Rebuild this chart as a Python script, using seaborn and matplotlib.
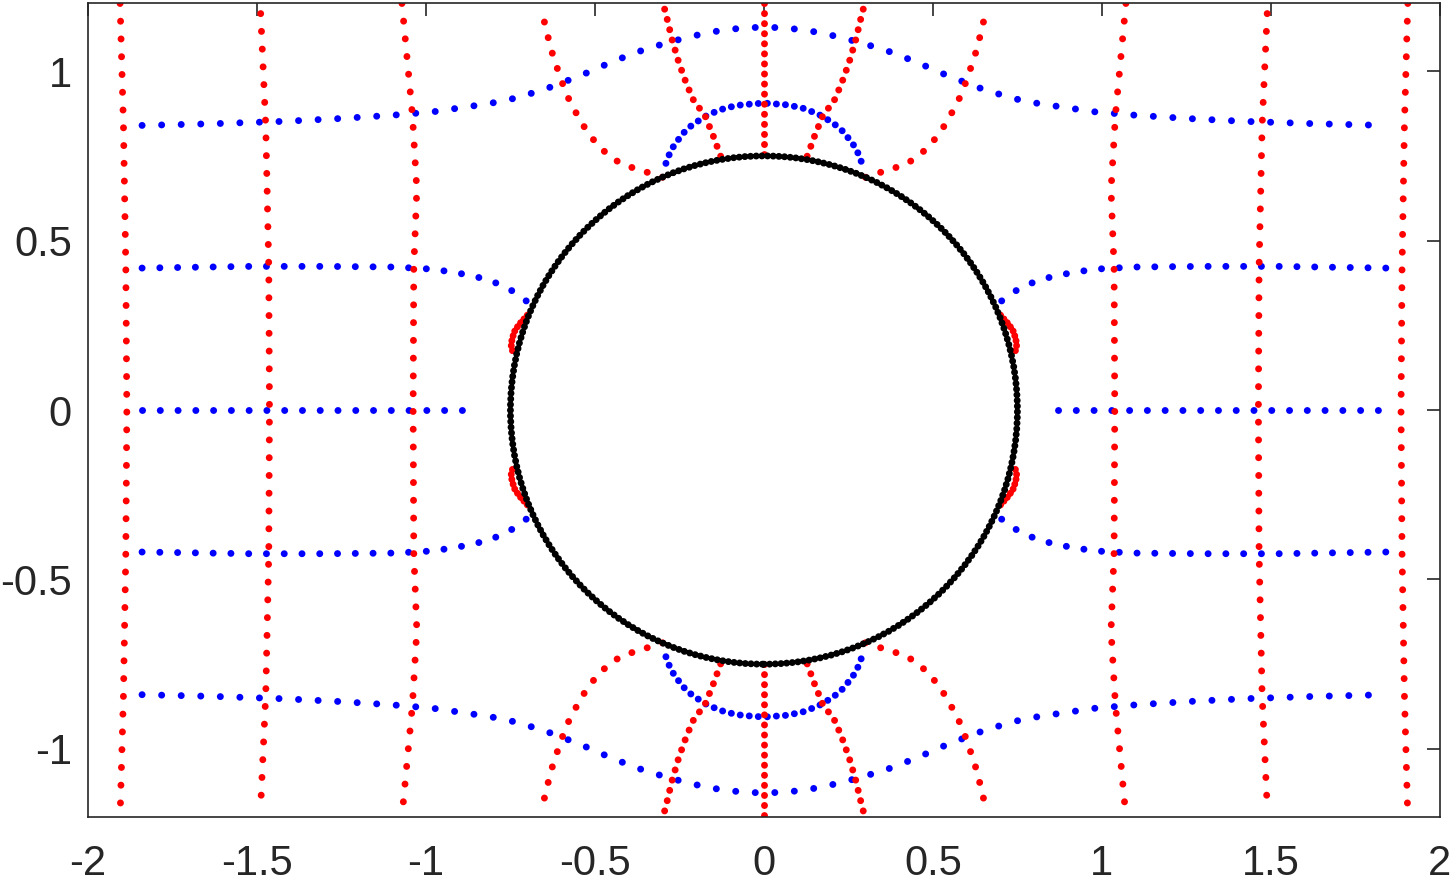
import numpy as np
import pandas as pd
import matplotlib
matplotlib.use("Agg")
import matplotlib.pyplot as plt
from matplotlib.patches import Circle
import seaborn as sns

# --- data ----------------------------------------------------------------
# red lines, left / right columns
red_l1_x = [-1.905, -1.895, -1.888, -1.885, -1.888, -1.895, -1.905]
red_l1_y = [1.2, 0.84, 0.42, 0.0, -0.42, -0.84, -1.2]
red_l2_x = [-1.489, -1.474, -1.465, -1.463, -1.465, -1.474, -1.489]
red_l2_y = [1.17, 0.84, 0.42, 0.0, -0.42, -0.84, -1.17]
red_l3_x = [-1.071, -1.040, -1.027, -1.036, -1.038, -1.036, -1.027, -1.040, -1.071]
red_l3_y = [1.2, 0.87, 0.65, 0.42, 0.0, -0.42, -0.65, -0.87, -1.2]
red_r1_x = [1.905, 1.895, 1.888, 1.885, 1.888, 1.895, 1.905]
red_r2_x = [1.489, 1.474, 1.465, 1.463, 1.465, 1.474, 1.489]
red_r3_x = [1.071, 1.040, 1.027, 1.036, 1.038, 1.036, 1.027, 1.040, 1.071]

# red centre line, above and below the circle
red_c_x = [0.0, 0.0]
red_c_top_y = [1.2, 0.75]
red_c_bot_y = [-0.75, -1.2]

# inner red curves (leave the circle near x=+-0.13)
red_in_x = [0.128, 0.150, 0.176, 0.206, 0.229, 0.252, 0.271, 0.290, 0.299]
red_in_y = [0.749, 0.809, 0.873, 0.909, 0.962, 1.026, 1.090, 1.169, 1.202]
red_in_xn = [-0.128, -0.150, -0.176, -0.206, -0.229, -0.252, -0.271, -0.290, -0.299]
red_in_yn = [-0.749, -0.809, -0.873, -0.909, -0.962, -1.026, -1.090, -1.169, -1.202]

# outer red curves (leave the circle near x=+-0.30)
red_out_x = [0.300, 0.340, 0.384, 0.435, 0.482, 0.521, 0.551, 0.577, 0.598, 0.614, 0.630, 0.642, 0.654, 0.658]
red_out_y = [0.687, 0.700, 0.713, 0.735, 0.771, 0.818, 0.868, 0.917, 0.969, 1.016, 1.065, 1.114, 1.164, 1.175]
red_out_xn = [-0.300, -0.340, -0.384, -0.435, -0.482, -0.521, -0.551, -0.577, -0.598, -0.614, -0.630, -0.642, -0.654, -0.658]
red_out_yn = [-0.687, -0.700, -0.713, -0.735, -0.771, -0.818, -0.868, -0.917, -0.969, -1.016, -1.065, -1.114, -1.164, -1.175]

# small red blobs hugging the circle at the sides
red_side_x = [0.700, 0.725, 0.738, 0.745, 0.748, 0.744]
red_side_y = [0.280, 0.252, 0.232, 0.210, 0.192, 0.175]
red_side_xn = [-0.700, -0.725, -0.738, -0.745, -0.748, -0.744]
red_side_yn = [-0.280, -0.252, -0.232, -0.210, -0.192, -0.175]

# blue outer curves (y ~ +-0.84 at the edges)
blue_out_x = [-1.84, -1.63, -1.42, -1.26, -1.10, -0.98, -0.87, -0.81, -0.75, -0.70, -0.645,
              -0.545, -0.46, -0.38, -0.30, -0.23, -0.165, -0.10, -0.03, 0.03, 0.10, 0.165,
              0.23, 0.30, 0.38, 0.46, 0.545, 0.645, 0.70, 0.75, 0.81, 0.87, 0.98, 1.10,
              1.26, 1.42, 1.63, 1.84]
blue_out_top_y = [0.840, 0.845, 0.852, 0.860, 0.870, 0.880, 0.896, 0.905, 0.917, 0.931, 0.948,
                  0.986, 1.023, 1.055, 1.080, 1.099, 1.114, 1.124, 1.129, 1.129, 1.124, 1.114,
                  1.099, 1.080, 1.055, 1.023, 0.986, 0.948, 0.931, 0.917, 0.905, 0.896, 0.880,
                  0.870, 0.860, 0.852, 0.845, 0.840]
blue_out_bot_y = [-0.840, -0.845, -0.852, -0.860, -0.870, -0.880, -0.896, -0.905, -0.917, -0.931, -0.948,
                  -0.986, -1.023, -1.055, -1.080, -1.099, -1.114, -1.124, -1.129, -1.129, -1.124, -1.114,
                  -1.099, -1.080, -1.055, -1.023, -0.986, -0.948, -0.931, -0.917, -0.905, -0.896, -0.880,
                  -0.870, -0.860, -0.852, -0.845, -0.840]

# blue inner arcs just outside the circle (y ~ +-0.9 at x=0)
blue_arc_x = [-0.290, -0.279, -0.266, -0.251, -0.234, -0.215, -0.196, -0.175, -0.154, -0.112, -0.065,
              0.0, 0.065, 0.112, 0.154, 0.175, 0.196, 0.215, 0.234, 0.251, 0.266, 0.279, 0.290]
blue_arc_top_y = [0.728, 0.757, 0.781, 0.801, 0.822, 0.839, 0.852, 0.866, 0.876, 0.892, 0.901,
                  0.906, 0.901, 0.892, 0.876, 0.866, 0.852, 0.839, 0.822, 0.801, 0.781, 0.757, 0.728]
blue_arc_bot_y = [-0.728, -0.757, -0.781, -0.801, -0.822, -0.839, -0.852, -0.866, -0.876, -0.892, -0.901,
                  -0.906, -0.901, -0.892, -0.876, -0.866, -0.852, -0.839, -0.822, -0.801, -0.781, -0.757, -0.728]

# blue middle curves (y ~ +-0.42), left and right of the circle
blue_mid_lx = [-1.84, -1.52, -1.30, -1.09, -0.984, -0.927, -0.877, -0.826, -0.779, -0.736, -0.702]
blue_mid_rx = [1.84, 1.52, 1.30, 1.09, 0.984, 0.927, 0.877, 0.826, 0.779, 0.736, 0.702]
blue_mid_top_y = [0.419, 0.424, 0.424, 0.422, 0.416, 0.408, 0.399, 0.387, 0.370, 0.347, 0.321]
blue_mid_bot_y = [-0.419, -0.424, -0.424, -0.422, -0.416, -0.408, -0.399, -0.387, -0.370, -0.347, -0.321]

# blue centre line (y = 0)
blue_zero_lx = [-1.84, -0.87]
blue_zero_rx = [0.87, 1.84]
blue_zero_y = [0.0, 0.0]

circle_radius = 0.75

x_ticks = [-2, -1.5, -1, -0.5, 0, 0.5, 1, 1.5, 2]
x_tick_labels = ["-2", "-1.5", "-1", "-0.5", "0", "0.5", "1", "1.5", "2"]
y_ticks = [-1, -0.5, 0, 0.5, 1]
y_tick_labels = ["-1", "-0.5", "0", "0.5", "1"]

# --- drawing --------------------------------------------------------------
sns.set_style("white")
plt.rcParams["font.family"] = ["Liberation Sans", "DejaVu Sans"]

fig = plt.figure(figsize=(14.54, 8.77), dpi=100)
ax = fig.add_axes([0.0605, 0.0688, 0.9298, 0.9273])

LW = 5.0                       # dot diameter in points
PX = LW * 100 / 72             # dot diameter in pixels


def dots(x, y, color, spacing_px):
    # dotted line: zero-length dashes with round caps -> evenly spaced dots
    sns.lineplot(x=x, y=y, sort=False, estimator=None, color=color, lw=LW,
                 linestyle=(0, (0.01, spacing_px / PX)), dash_capstyle="round",
                 ax=ax, legend=False)


# blue first
dots(blue_out_x, blue_out_top_y, "blue", 19.5)
dots(blue_out_x, blue_out_bot_y, "blue", 19.5)
dots(blue_arc_x, blue_arc_top_y, "blue", 9.0)
dots(blue_arc_x, blue_arc_bot_y, "blue", 9.0)
dots(blue_mid_lx, blue_mid_top_y, "blue", 17.7)
dots(blue_mid_rx, blue_mid_top_y, "blue", 17.7)
dots(blue_mid_lx, blue_mid_bot_y, "blue", 17.7)
dots(blue_mid_rx, blue_mid_bot_y, "blue", 17.7)
dots(blue_zero_lx, blue_zero_y, "blue", 17.7)
dots(blue_zero_rx, blue_zero_y, "blue", 17.7)

# red
for xs, ys in [(red_l1_x, red_l1_y), (red_l2_x, red_l2_y), (red_l3_x, red_l3_y),
               (red_r1_x, red_l1_y), (red_r2_x, red_l2_y), (red_r3_x, red_l3_y)]:
    dots(xs, ys, "red", 17.7)
dots(red_c_x, red_c_top_y, "red", 10.0)
dots(red_c_x, red_c_bot_y, "red", 10.0)
dots(red_in_x, red_in_y, "red", 10.5)
dots(red_in_xn, red_in_y, "red", 10.5)
dots(red_in_x, red_in_yn, "red", 10.5)
dots(red_in_xn, red_in_yn, "red", 10.5)
dots(red_out_x, red_out_y, "red", 16.0)
dots(red_out_xn, red_out_y, "red", 16.0)
dots(red_out_x, red_out_yn, "red", 16.0)
dots(red_out_xn, red_out_yn, "red", 16.0)
dots(red_side_x, red_side_y, "red", 5.0)
dots(red_side_xn, red_side_y, "red", 5.0)
dots(red_side_x, red_side_yn, "red", 5.0)
dots(red_side_xn, red_side_yn, "red", 5.0)

# black circle (dense dots)
ax.add_patch(Circle((0, 0), circle_radius, fill=False, edgecolor="black", lw=LW,
                    linestyle=(0, (0.01, 5.6 / PX)), capstyle="round", zorder=5))

ax.set_xlim(-2, 2)
ax.set_ylim(-1.2, 1.2)
ax.set_xticks(x_ticks)
ax.set_xticklabels(x_tick_labels)
ax.set_yticks(y_ticks)
ax.set_yticklabels(y_tick_labels)
ax.set_xlabel("")
ax.set_ylabel("")

for sp in ax.spines.values():
    sp.set_visible(True)
    sp.set_color("#262626")
    sp.set_linewidth(1.2)
ax.tick_params(direction="in", length=9.5, width=1.2, color="#262626",
               top=True, right=True, labelsize=30, labelcolor="#262626")
ax.tick_params(axis="x", pad=20)
ax.tick_params(axis="y", pad=11.5)

fig.savefig("out.png", dpi=100)
